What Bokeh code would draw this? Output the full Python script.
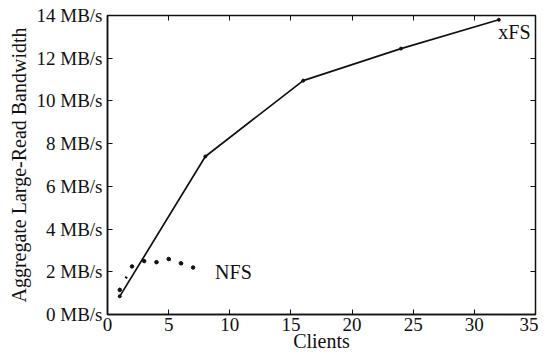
from bokeh.plotting import figure
from bokeh.models import Range1d, FixedTicker, LinearAxis, Label, CustomJSTickFormatter
from bokeh.embed import file_html
from bokeh.resources import INLINE

# Data
xfs_clients = [1, 8, 16, 24, 32]
xfs_bw = [0.85, 7.4, 10.95, 12.45, 13.8]
nfs_clients = [1, 2, 3, 4, 5, 6, 7]
nfs_bw = [1.15, 2.25, 2.5, 2.45, 2.6, 2.4, 2.2]
x_ticks = [0, 5, 10, 15, 20, 25, 30, 35]
y_ticks = [0, 2, 4, 6, 8, 10, 12, 14]
y_tick_labels = ["0 MB/s", "2 MB/s", "4 MB/s", "6 MB/s", "8 MB/s", "10 MB/s", "12 MB/s", "14 MB/s"]

FONT = "Liberation Serif"
INK = "#111111"

p = figure(width=538, height=358, output_backend="svg", toolbar_location=None,
           x_range=Range1d(0, 35), y_range=Range1d(0, 14),
           min_border_left=107, min_border_right=3, min_border_top=15, min_border_bottom=44)
p.grid.visible = False
p.outline_line_color = INK
p.outline_line_width = 1.5
p.background_fill_color = "white"
p.border_fill_color = "white"

for ax in (p.xaxis[0], p.yaxis[0]):
    ax.major_tick_in = 5
    ax.major_tick_out = 0
    ax.minor_tick_in = 0
    ax.minor_tick_out = 0
    ax.axis_line_color = INK
    ax.axis_line_width = 1.5
    ax.major_tick_line_color = INK
    ax.major_label_text_font = FONT
    ax.major_label_text_font_size = "19px"
    ax.major_label_text_color = INK

p.xaxis[0].ticker = FixedTicker(ticks=x_ticks)
p.xaxis[0].major_label_standoff = 3
p.xaxis[0].axis_label = "Clients"
p.xaxis[0].axis_label_text_font = FONT
p.xaxis[0].axis_label_text_font_size = "20px"
p.xaxis[0].axis_label_text_font_style = "normal"
p.xaxis[0].axis_label_text_color = INK
p.xaxis[0].axis_label_standoff = -4

p.yaxis[0].ticker = FixedTicker(ticks=y_ticks)
p.yaxis[0].major_label_overrides = {t: l for t, l in zip(y_ticks, y_tick_labels)}
p.yaxis[0].major_label_standoff = 5
p.yaxis[0].axis_label = "Aggregate Large-Read Bandwidth"
p.yaxis[0].axis_label_text_font = FONT
p.yaxis[0].axis_label_text_font_size = "20px"
p.yaxis[0].axis_label_text_font_style = "normal"
p.yaxis[0].axis_label_text_color = INK
p.yaxis[0].axis_label_standoff = 4

blank = CustomJSTickFormatter(code="return ''")
top = LinearAxis(ticker=FixedTicker(ticks=x_ticks), formatter=blank, major_tick_in=5, major_tick_out=0,
                 minor_tick_in=0, minor_tick_out=0, major_label_standoff=0,
                 axis_line_color=INK, major_tick_line_color=INK)
right = LinearAxis(ticker=FixedTicker(ticks=y_ticks), formatter=blank, major_tick_in=5, major_tick_out=0,
                   minor_tick_in=0, minor_tick_out=0, major_label_standoff=0,
                   axis_line_color=INK, major_tick_line_color=INK)
p.add_layout(top, "above")
p.add_layout(right, "right")

p.line(xfs_clients, xfs_bw, line_color=INK, line_width=1.7)
p.scatter(xfs_clients, xfs_bw, size=3, color=INK)
p.line(nfs_clients, nfs_bw, line_color=INK, line_width=2.5, line_dash="2 11")
p.scatter(nfs_clients, nfs_bw, size=3.5, color=INK)

p.add_layout(Label(x=34.6, y=13.25, text="xFS", text_font=FONT, text_font_size="20px",
                   text_align="right", text_baseline="middle", text_color=INK))
p.add_layout(Label(x=8.8, y=2.0, text="NFS", text_font=FONT, text_font_size="20px",
                   text_align="left", text_baseline="middle", text_color=INK))

open("out.html", "w").write(file_html(p, INLINE))
